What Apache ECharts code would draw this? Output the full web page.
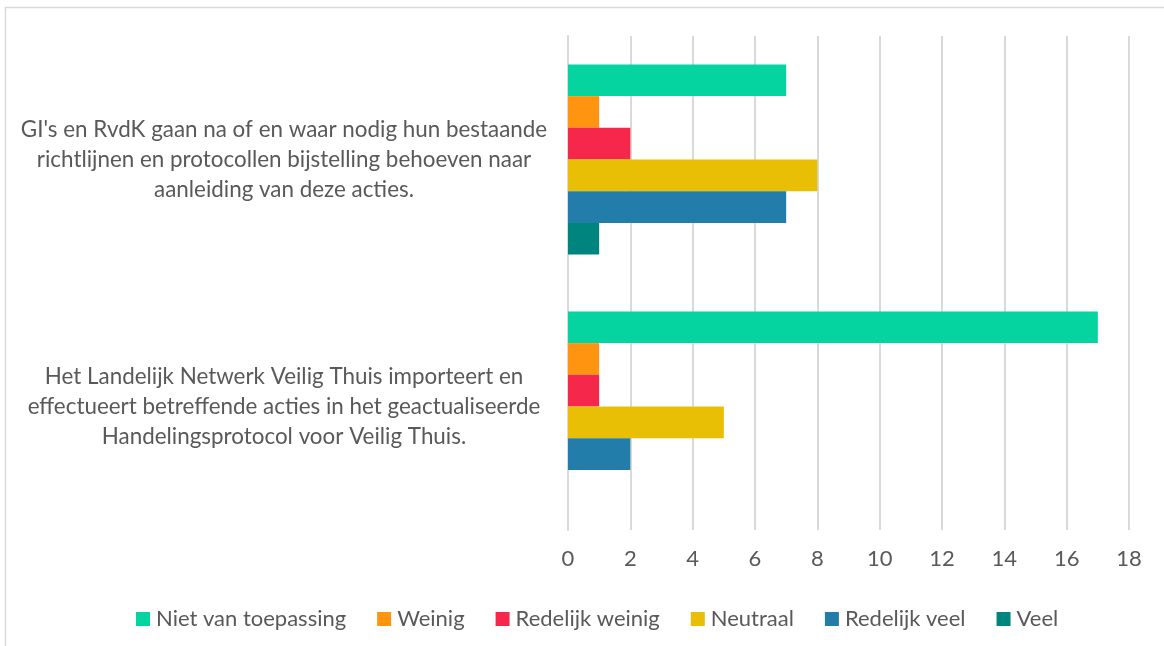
<!DOCTYPE html>
<html>
<head>
<meta charset="utf-8">
<script src="https://cdn.jsdelivr.net/npm/echarts@6/dist/echarts.min.js"></script>
<style>
html,body{margin:0;padding:0;background:#fff;}
#chart{width:1164px;height:646px;}
</style>
</head>
<body>
<div id="chart"></div>
<script>
const categories = [
  "GI's en RvdK gaan na of en waar nodig hun bestaande\nrichtlijnen en protocollen bijstelling behoeven naar\naanleiding van deze acties.",
  "Het Landelijk Netwerk Veilig Thuis importeert en\neffectueert betreffende acties in het geactualiseerde\nHandelingsprotocol voor Veilig Thuis."
];
const seriesNames = ["Niet van toepassing", "Weinig", "Redelijk weinig", "Neutraal", "Redelijk veel", "Veel"];
const nietVanToepassing = [7, 17];
const weinig = [1, 1];
const redelijkWeinig = [2, 1];
const neutraal = [8, 5];
const redelijkVeel = [7, 2];
const veel = [1, 0];
const xTicks = [0, 2, 4, 6, 8, 10, 12, 14, 16, 18];

const seriesData = [nietVanToepassing, weinig, redelijkWeinig, neutraal, redelijkVeel, veel];
const colors = ["#05D3A0", "#FF9411", "#F5274B", "#E9BF05", "#237DAA", "#00847E"];

const FONT = "Lato";
const TXT = "#595959";

const chart = echarts.init(document.getElementById('chart'), null, {renderer: 'canvas'});
chart.setOption({
  animation: false,
  backgroundColor: '#ffffff',
  textStyle: {fontFamily: FONT},
  grid: {left: 568, right: 35, top: 36, bottom: 116, containLabel: false},
  graphic: [{
    type: 'polyline',
    shape: {points: [[5.5, 646], [5.5, 7.5], [1164, 7.5]]},
    style: {stroke: '#d9d9d9', lineWidth: 1.5, fill: null},
    silent: true
  }],
  legend: {
    data: seriesNames,
    left: 131,
    top: 603,
    itemWidth: 14,
    itemHeight: 14,
    itemGap: 31,
    icon: 'rect',
    textStyle: {fontFamily: FONT, fontSize: 22, color: TXT, padding: [0, 0, 0, 1]}
  },
  xAxis: {
    type: 'value',
    min: xTicks[0],
    max: xTicks[xTicks.length - 1],
    interval: 2,
    axisLine: {show: false},
    axisTick: {show: false},
    splitLine: {show: true, lineStyle: {color: '#d9d9d9', width: 2}},
    axisLabel: {fontFamily: FONT, fontSize: 22, color: TXT, margin: 18}
  },
  yAxis: {
    type: 'category',
    data: categories,
    inverse: true,
    axisLine: {show: true, lineStyle: {color: '#d9d9d9', width: 2}},
    axisTick: {show: false},
    axisLabel: {
      fontFamily: FONT, fontSize: 22.4, color: TXT, margin: 284,
      align: 'center', lineHeight: 30
    }
  },
  series: seriesNames.map((name, i) => ({
    name: name,
    type: 'bar',
    data: seriesData[i],
    barGap: '0%',
    barCategoryGap: '23%',
    itemStyle: {color: colors[i]}
  }))
});
</script>
</body>
</html>
